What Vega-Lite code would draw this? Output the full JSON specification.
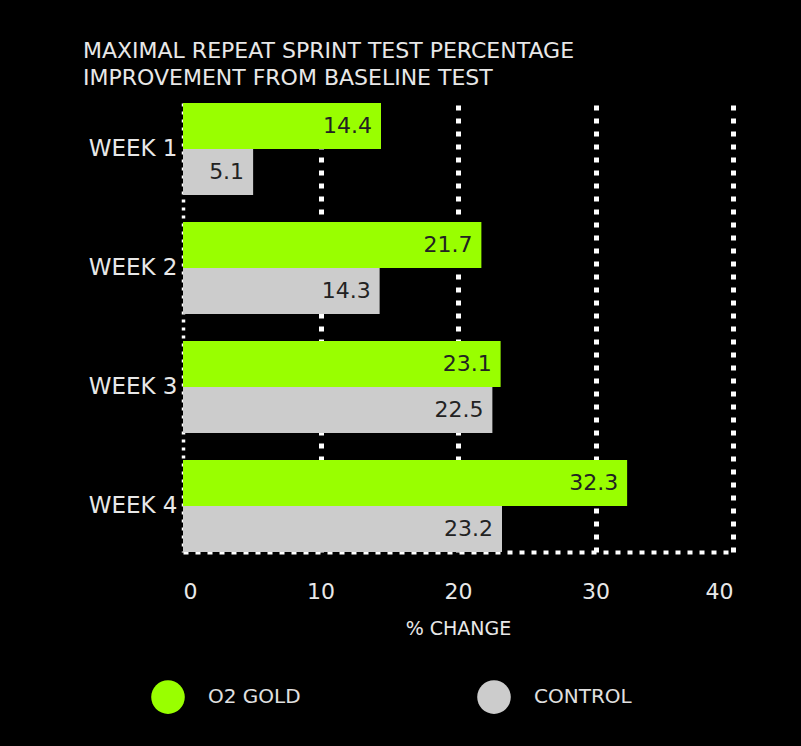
{
  "$schema": "https://vega.github.io/schema/vega-lite/v6.json",
  "width": 550,
  "height": 449,
  "autosize": "none",
  "padding": {"left": 183, "top": 103, "right": 68, "bottom": 194},
  "background": "#000000",
  "config": {"view": {"stroke": null}, "font": "DejaVu Sans"},
  "title": {
    "text": ["MAXIMAL REPEAT SPRINT TEST PERCENTAGE", "IMPROVEMENT FROM BASELINE TEST"],
    "anchor": "start",
    "frame": "group",
    "dx": -100,
    "offset": 13,
    "fontSize": 22,
    "font": "DejaVu Sans",
    "fontWeight": "normal",
    "color": "#e8e8e8",
    "lineHeight": 27
  },
  "data": {
    "values": [
      {"week": "WEEK 1", "group": "O2 GOLD", "value": 14.4},
      {"week": "WEEK 1", "group": "CONTROL", "value": 5.1},
      {"week": "WEEK 2", "group": "O2 GOLD", "value": 21.7},
      {"week": "WEEK 2", "group": "CONTROL", "value": 14.3},
      {"week": "WEEK 3", "group": "O2 GOLD", "value": 23.1},
      {"week": "WEEK 3", "group": "CONTROL", "value": 22.5},
      {"week": "WEEK 4", "group": "O2 GOLD", "value": 32.3},
      {"week": "WEEK 4", "group": "CONTROL", "value": 23.2}
    ]
  },
  "encoding": {
    "y": {
      "field": "week",
      "type": "nominal",
      "scale": {"paddingInner": 0.227, "paddingOuter": 0},
      "axis": {
        "title": null,
        "domain": true,
        "domainColor": "#ffffff",
        "domainDash": [3, 5],
        "domainWidth": 3.5,
        "ticks": false,
        "grid": false,
        "labelFontSize": 23,
        "labelColor": "#e8e8e8",
        "labelPadding": 6,
        "labelFont": "DejaVu Sans"
      }
    },
    "yOffset": {"field": "group", "sort": ["O2 GOLD", "CONTROL"]},
    "x": {
      "field": "value",
      "type": "quantitative",
      "scale": {"domain": [0, 40], "nice": false},
      "axis": {
        "values": [0, 10, 20, 30, 40],
        "title": "% CHANGE",
        "titleFontSize": 19,
        "titleColor": "#e8e8e8",
        "titleFontWeight": "normal",
        "titleFont": "DejaVu Sans",
        "titlePadding": 17,
        "labelFontSize": 22,
        "labelColor": "#e8e8e8",
        "labelFont": "DejaVu Sans",
        "labelPadding": 29,
        "ticks": false,
        "domainColor": "#ffffff",
        "domainDash": [5, 7],
        "domainWidth": 4,
        "grid": true,
        "gridColor": "#ffffff",
        "gridDash": [5, 8],
        "gridWidth": 5,
        "gridOpacity": {"condition": {"test": "datum.value === 0", "value": 0}, "value": 1}
      }
    }
  },
  "layer": [
    {
      "mark": {"type": "bar"},
      "encoding": {
        "color": {
          "field": "group",
          "type": "nominal",
          "scale": {"domain": ["O2 GOLD", "CONTROL"], "range": ["#99ff00", "#cccccc"]},
          "legend": {
            "orient": "none",
            "legendX": -32,
            "legendY": 577,
            "direction": "horizontal",
            "title": null,
            "symbolType": "circle",
            "symbolSize": 1130,
            "symbolStrokeWidth": 0,
            "symbolOpacity": 1,
            "labelFontSize": 20,
            "labelColor": "#e0e0e0",
            "labelFont": "DejaVu Sans",
            "labelOffset": 23,
            "columnPadding": 176
          }
        }
      }
    },
    {
      "mark": {"type": "text", "align": "right", "baseline": "middle", "dx": -9, "fontSize": 22, "color": "#222222", "font": "DejaVu Sans"},
      "encoding": {"text": {"field": "value", "type": "quantitative", "format": ".1f"}}
    }
  ]
}
